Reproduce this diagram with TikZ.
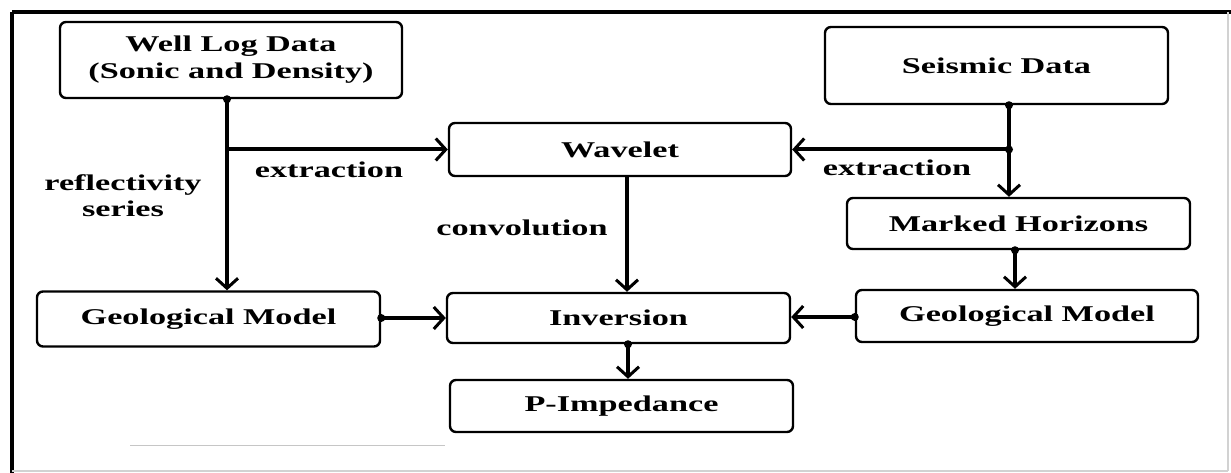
\documentclass[tikz,border=0pt]{standalone}
\usepackage{fontspec}
\setmainfont{Liberation Serif}[FakeStretch=1.52]
\usetikzlibrary{arrows.meta,calc}
\begin{document}
\begin{tikzpicture}[x=1bp,y=-1bp,
  box/.style={draw=black,line width=2.4bp,rounded corners=6bp,fill=white,
    minimum width=342bp,align=center,inner sep=0pt,
    font=\fontsize{22.6}{27}\selectfont\bfseries},
  lab/.style={align=center,inner sep=0pt,font=\fontsize{22.6}{26}\selectfont\bfseries},
  arr/.style={line width=4bp,-{Straight Barb[length=10bp,width=22bp,line width=3bp]}},
  con/.style={line width=4bp},
  dot/.style={circle,fill=black,inner sep=0pt,minimum size=8bp}]
\useasboundingbox (0,0) rectangle (1231,473);
\fill[white] (0,0) rectangle (1231,473);
% frame
\draw[line width=3.5bp] (12,12) -- (1231,12);
\draw[line width=4bp] (12,12) -- (12,473);
\draw[gray!35,line width=1.2bp] (1228,12) -- (1228,471);
\draw[gray!35,line width=1.2bp] (12,471) -- (1228,471);
\draw[gray!45,line width=1bp] (130,446) -- (445,446);
% boxes
\node[box,minimum height=76bp] (well) at (231,60) {Well Log Data\\(Sonic and Density)};
\node[box,minimum height=77bp,minimum width=343bp] (seis) at (996.5,65.5) {Seismic Data};
\node[box,minimum height=53bp] (wave) at (620,149.5) {Wavelet};
\node[box,minimum height=51bp,minimum width=343bp] (mark) at (1018.5,223.5) {Marked Horizons};
\node[box,minimum height=55bp,minimum width=343bp] (geoL) at (208.5,319) {Geological Model};
\node[box,minimum height=50bp,minimum width=343bp] (inv) at (618.5,318) {Inversion};
\node[box,minimum height=52bp,minimum width=343bp] (pimp) at (621.5,406) {P-Impedance};
\node[box,minimum height=52bp] (geoR) at (1027,316) {Geological Model};
% junction coordinates
\coordinate (wl) at ([xshift=-4bp]well.south);
\coordinate (jL) at (wl |- wave.west);
\coordinate (sd) at ([xshift=12.5bp]seis.south);
\coordinate (jR) at (sd |- wave.east);
\coordinate (md) at ([xshift=-3.5bp]mark.south);
\coordinate (wd) at ([xshift=7bp]wave.south);
\coordinate (id) at ([xshift=9.5bp]inv.south);
% connectors
\draw[arr] (wl) -- (wl |- geoL.north);
\draw[arr] (jL) -- (wave.west);
\draw[arr] (sd) -- (sd |- mark.north);
\draw[arr] (jR) -- (wave.east);
\draw[arr] (md) -- (md |- geoR.north);
\draw[arr] (wd) -- (wd |- inv.north);
\draw[arr] (id) -- (id |- pimp.north);
\draw[arr] ([yshift=1bp]geoL.east) -- ([yshift=1bp]geoL.east -| inv.west);
\draw[arr] ([yshift=-1bp]geoR.west) -- ([yshift=-1bp]geoR.west -| inv.east);
% dots
\node[dot] at (wl) {};
\node[dot] at (sd) {};
\node[dot] at (jR) {};
\node[dot] at (md) {};
\node[dot] at (id) {};
\node[dot] at ([yshift=1bp]geoL.east) {};
\node[dot] at ([yshift=-1bp]geoR.west) {};
% labels
\node[lab] (l1) at (329,170) {extraction};
\node[lab] (l2) at (123,196) {reflectivity\\series};
\node[lab] (l3) at (897,168) {extraction};
\node[lab] (l4) at (522,228) {convolution};
\end{tikzpicture}
\end{document}
